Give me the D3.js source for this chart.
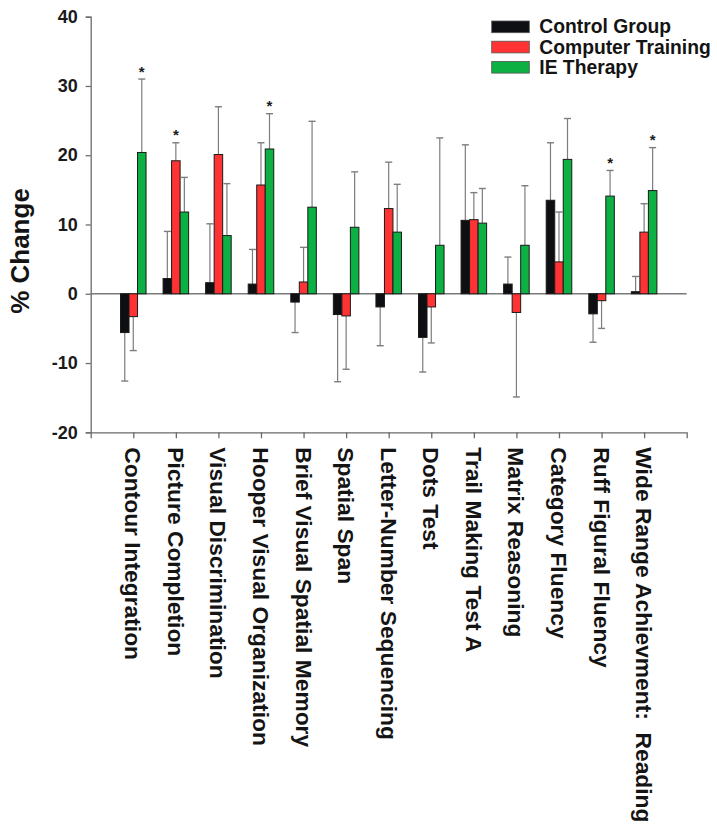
<!DOCTYPE html>
<html>
<head>
<meta charset="utf-8">
<script src="https://cdn.jsdelivr.net/npm/d3@7"></script>
<style>
  html, body { margin: 0; padding: 0; background: #fff; }
  svg { display: block; font-family: "Liberation Sans", Arial, sans-serif; }
  .cat-label { white-space: pre; }
</style>
</head>
<body>
<svg id="chart" width="717" height="825"></svg>
<script>
// Outcome measures (x axis)
const categories = [
  "Contour Integration", "Picture Completion", "Visual Discrimination",
  "Hooper Visual Organization", "Brief Visual Spatial Memory", "Spatial Span",
  "Letter-Number Sequencing", "Dots Test", "Trail Making Test A",
  "Matrix Reasoning", "Category Fluency", "Ruff Figural Fluency",
  "Wide Range Achievment:  Reading"
];

// Mean % change per group
const controlGroup     = [-5.6, 2.2, 1.6, 1.4, -1.2, -3.0, -1.9, -6.3, 10.6, 1.4, 13.5, -2.9, 0.3];
const computerTraining = [-3.3, 19.2, 20.1, 15.7, 1.7, -3.2, 12.3, -1.9, 10.7, -2.7, 4.6, -1.0, 8.9];
const ieTherapy        = [20.4, 11.8, 8.4, 20.9, 12.5, 9.6, 8.9, 7.0, 10.2, 7.0, 19.4, 14.1, 14.9];

// Error bar lengths (one-sided, away from zero)
const controlErr  = [7.0, 6.8, 8.5, 5.0, 4.4, 9.7, 5.6, 5.0, 10.9, 3.9, 8.3, 4.1, 2.2];
const computerErr = [4.9, 2.6, 6.9, 6.1, 5.0, 7.7, 6.7, 5.2, 3.9, 12.2, 7.2, 4.0, 4.1];
const ieErr       = [10.6, 5.0, 7.5, 5.1, 12.4, 8.0, 6.9, 15.5, 5.0, 8.6, 5.9, 3.7, 6.2];

// Significance markers: [category index, series index]
const significant = [[0, 2], [1, 1], [3, 2], [11, 2], [12, 2]];

const seriesNames = ["Control Group", "Computer Training", "IE Therapy"];
const seriesColors = ["#0d0f12", "#ff3333", "#0db043"];
const yTicks = [-20, -10, 0, 10, 20, 30, 40];
const yTickLabels = ["-20", "-10", "0", "10", "20", "30", "40"];

const series = [
  { values: controlGroup, errs: controlErr },
  { values: computerTraining, errs: computerErr },
  { values: ieTherapy, errs: ieErr }
];

const svg = d3.select("#chart");

const x = d3.scaleLinear().domain([0, categories.length + 1]).range([90.7, 686.7]);
const y = d3.scaleLinear().domain([-20, 40]).range([432.3, 16.7]);
const barW = 0.2; // in category units

const axisColor = "#6b6b6b";

// Zero reference line
svg.append("line")
  .attr("x1", x(0)).attr("x2", x(categories.length + 1))
  .attr("y1", y(0)).attr("y2", y(0))
  .attr("stroke", "#7a7a7a").attr("stroke-width", 1.3);

// Y axis
const yAxis = svg.append("g")
  .attr("transform", `translate(${x(0)},0)`)
  .call(d3.axisLeft(y).tickValues(yTicks).tickSize(5).tickPadding(8)
    .tickFormat((d, i) => yTickLabels[i]));
yAxis.select(".domain").attr("stroke", axisColor).attr("stroke-width", 1.3);
yAxis.selectAll(".tick line").attr("stroke", axisColor).attr("stroke-width", 1.3);
yAxis.selectAll(".tick text")
  .attr("font-size", 18).attr("font-weight", "bold").attr("fill", "#1a1a1a");

// X axis
const xAxis = svg.append("g")
  .attr("transform", `translate(0,${y(-20)})`)
  .call(d3.axisBottom(x).tickValues(d3.range(1, categories.length + 1)).tickSize(6).tickFormat(""));
xAxis.select(".domain").attr("stroke", axisColor).attr("stroke-width", 1.3);
xAxis.selectAll(".tick line").attr("stroke", axisColor).attr("stroke-width", 1.3);

// Category labels, rotated to read downward
svg.append("g").selectAll("text")
  .data(categories)
  .join("text")
  .attr("class", "cat-label")
  .attr("transform", (d, i) => `translate(${x(i + 1)},${y(-20) + 15}) rotate(90)`)
  .attr("dy", "0.35em")
  .attr("text-anchor", "start")
  .attr("font-size", 22.8)
  .attr("font-weight", "bold")
  .attr("fill", "#141414")
  .text(d => d);

// Y axis title
svg.append("text")
  .attr("transform", `translate(28.7,251) rotate(-90)`)
  .attr("text-anchor", "middle")
  .attr("font-size", 26)
  .attr("font-weight", "bold")
  .attr("fill", "#141414")
  .text("% Change");

// Error bars and bars
const errColor = "#7d7d7d";
const capHalf = 3.5;
series.forEach((s, si) => {
  const g = svg.append("g");
  const cx = i => x(i + 1 + (si - 1) * barW);
  const end = (v, e) => v >= 0 ? v + e : v - e;

  g.selectAll("line.err")
    .data(s.values)
    .join("line")
    .attr("class", "err")
    .attr("x1", (d, i) => cx(i)).attr("x2", (d, i) => cx(i))
    .attr("y1", d => y(d))
    .attr("y2", (d, i) => y(end(d, s.errs[i])))
    .attr("stroke", errColor).attr("stroke-width", 1.2);

  g.selectAll("line.cap")
    .data(s.values)
    .join("line")
    .attr("class", "cap")
    .attr("x1", (d, i) => cx(i) - capHalf).attr("x2", (d, i) => cx(i) + capHalf)
    .attr("y1", (d, i) => y(end(d, s.errs[i])))
    .attr("y2", (d, i) => y(end(d, s.errs[i])))
    .attr("stroke", errColor).attr("stroke-width", 1.4);

  g.selectAll("rect")
    .data(s.values)
    .join("rect")
    .attr("x", (d, i) => x(i + 1 + (si - 1) * barW - barW / 2))
    .attr("width", x(barW) - x(0))
    .attr("y", d => y(Math.max(0, d)))
    .attr("height", d => Math.abs(y(d) - y(0)))
    .attr("fill", seriesColors[si])
    .attr("stroke", "#1a1a1a")
    .attr("stroke-width", 1);
});

// Significance asterisks above the error bars
svg.append("g").selectAll("text")
  .data(significant)
  .join("text")
  .attr("x", d => x(d[0] + 1 + (d[1] - 1) * barW))
  .attr("y", d => {
    const s = series[d[1]];
    return y(s.values[d[0]] + s.errs[d[0]]) - 2.5;
  })
  .attr("text-anchor", "middle")
  .attr("font-size", 15)
  .attr("font-weight", "bold")
  .attr("fill", "#1a1a1a")
  .text("*");

// Legend
const legend = svg.append("g").attr("transform", "translate(491.7,21)");
seriesNames.forEach((name, i) => {
  const row = legend.append("g").attr("transform", `translate(0,${i * 20.2})`);
  row.append("rect")
    .attr("width", 37.6).attr("height", 11.7)
    .attr("fill", seriesColors[i])
    .attr("stroke", "#555").attr("stroke-width", 0.8);
  row.append("text")
    .attr("x", 47.6).attr("y", 12.3)
    .attr("font-size", 19.3)
    .attr("font-weight", "bold")
    .attr("fill", "#141414")
    .text(name);
});
</script>
</body>
</html>
